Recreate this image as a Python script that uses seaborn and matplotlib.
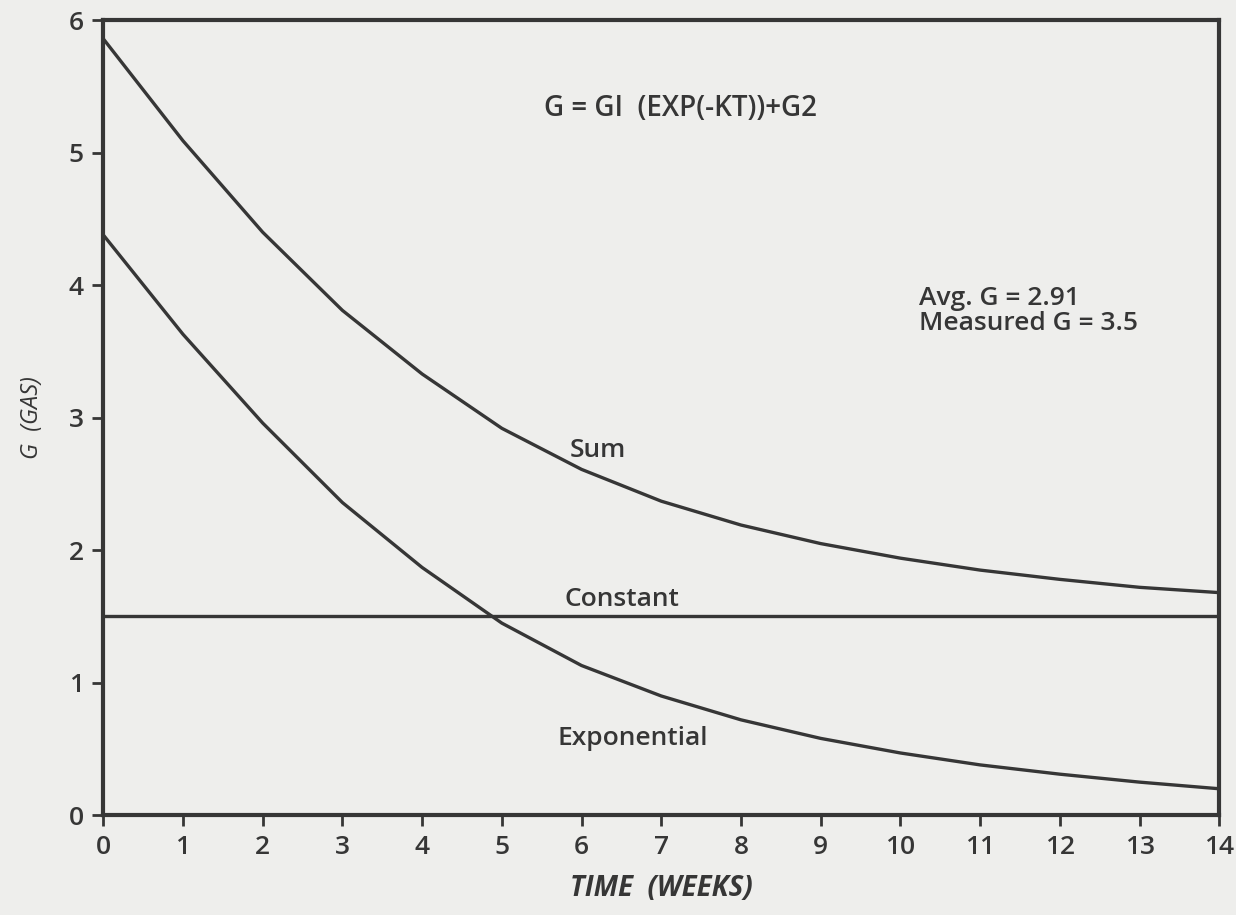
import pandas as pd
import matplotlib
matplotlib.use("Agg")
import matplotlib.pyplot as plt
import seaborn as sns

# Values (G vs. time in weeks)
weeks = [0, 1, 2, 3, 4, 5, 6, 7, 8, 9, 10, 11, 12, 13, 14]
exponential = [4.38, 3.63, 2.96, 2.36, 1.87, 1.45, 1.13, 0.90, 0.72, 0.58, 0.47, 0.38, 0.31, 0.25, 0.20]
total = [5.86, 5.09, 4.40, 3.81, 3.33, 2.92, 2.61, 2.37, 2.19, 2.05, 1.94, 1.85, 1.78, 1.72, 1.68]
constant = [1.50] * len(weeks)

x_ticks = list(range(0, 15))
x_tick_labels = [str(v) for v in x_ticks]
y_ticks = [0, 1, 2, 3, 4, 5, 6]

df = pd.DataFrame({"week": weeks * 3,
                   "G": total + constant + exponential,
                   "curve": ["Sum"] * 15 + ["Constant"] * 15 + ["Exponential"] * 15})

ink = "#363636"
paper = "#eeeeec"

sns.set_theme(style="ticks")
plt.rcParams["font.family"] = ["Open Sans", "DejaVu Sans"]

fig = plt.figure(figsize=(12.36, 9.15), dpi=100, facecolor=paper)
ax = fig.add_axes([0.0835, 0.109, 0.903, 0.869])
ax.set_facecolor(paper)

sns.lineplot(data=df, x="week", y="G", units="curve", estimator=None,
             color=ink, linewidth=2.4, ax=ax, legend=False)

ax.set_xlim(0, 14)
ax.set_ylim(0, 6)
ax.set_xticks(x_ticks)
ax.set_xticklabels(x_tick_labels)
ax.set_yticks(y_ticks)

for side in ["left", "right", "top", "bottom"]:
    ax.spines[side].set_visible(True)
    ax.spines[side].set_color(ink)
    ax.spines[side].set_linewidth(3)

ax.tick_params(axis="both", direction="out", length=8, width=2, color=ink,
               labelsize=19, labelcolor=ink, pad=6)
for lab in ax.get_xticklabels() + ax.get_yticklabels():
    lab.set_fontweight("semibold")

ax.set_xlabel("TIME  (WEEKS)", fontsize=20, fontstyle="italic", fontweight="bold",
              color=ink, labelpad=10)
ax.set_ylabel("G  (GAS)", fontsize=17, fontstyle="italic", color=ink, labelpad=18)

# curve labels and notes
txt = dict(color=ink, fontsize=19, fontweight="semibold")
ax.text(6.21, 2.75, "Sum", ha="center", va="center", **txt)
ax.text(6.51, 1.63, "Constant", ha="center", va="center", **txt)
ax.text(6.64, 0.58, "Exponential", ha="center", va="center", **txt)
ax.text(7.24, 5.33, "G = GI  (EXP(-KT))+G2", ha="center", va="center",
        color=ink, fontsize=20, fontweight="semibold")
ax.text(10.23, 3.9, "Avg. G = 2.91", ha="left", va="center", **txt)
ax.text(10.23, 3.71, "Measured G = 3.5", ha="left", va="center", **txt)

fig.savefig("out.png", dpi=100, facecolor=paper)
